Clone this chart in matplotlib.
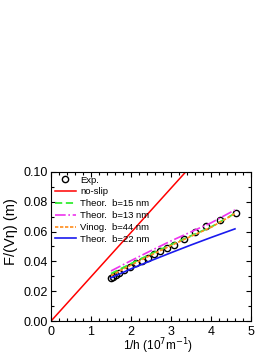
import matplotlib
matplotlib.use("Agg")
import matplotlib.pyplot as plt
from matplotlib.ticker import MultipleLocator, FormatStrFormatter
import numpy as np

plt.rcParams['font.family'] = ['Liberation Sans', 'DejaVu Sans']

# experimental points
exp_x = [1.49, 1.55, 1.62, 1.71, 1.83, 1.97, 2.12, 2.27, 2.42, 2.58, 2.73,
         2.89, 3.08, 3.33, 3.60, 3.88, 4.23, 4.62]
exp_y = [0.0287, 0.0298, 0.0310, 0.0322, 0.0342, 0.0365, 0.0387, 0.0405,
         0.0425, 0.0448, 0.0470, 0.0490, 0.0512, 0.0550, 0.0600, 0.0636,
         0.0677, 0.0722]

# no-slip line
noslip_x = [0.0, 3.37]
noslip_y = [0.0, 0.100]

# theory curves
th_x = [1.5, 2.0, 2.5, 3.0, 3.5, 4.0, 4.6]
th15_y = [0.0318, 0.0385, 0.0450, 0.0512, 0.0572, 0.0630, 0.0722]
th13_y = [0.0336, 0.0405, 0.0472, 0.0537, 0.0598, 0.0658, 0.0745]
vin44_y = [0.0305, 0.0375, 0.0442, 0.0506, 0.0568, 0.0628, 0.0720]
th22_y = [0.0290, 0.0350, 0.0405, 0.0458, 0.0510, 0.0560, 0.0618]

fig = plt.figure(figsize=(2.77, 3.58), dpi=100)
ax = fig.add_axes([0.184, 0.103, 0.722, 0.417])

ax.plot(exp_x, exp_y, 'o', mfc='none', mec='black', ms=4.5, mew=1.0, label='Exp.')
ax.plot(noslip_x, noslip_y, '-', color='red', lw=1.1, label='no-slip')
ax.plot(th_x, th15_y, '--', color='#33ee33', lw=1.3, dashes=(4, 2), label='Theor.  b=15 nm')
ax.plot(th_x, th13_y, '-.', color='#ee33ee', lw=1.2, label='Theor.  b=13 nm')
ax.plot(th_x, vin44_y, ':', color='#ff8c1a', lw=1.2, dashes=(2, 1), label='Vinog.  b=44 nm')
ax.plot(th_x, th22_y, '-', color='#1a1aee', lw=1.2, label='Theor.  b=22 nm')

ax.set_xlim(0, 5)
ax.set_ylim(0, 0.10)
ax.xaxis.set_major_locator(MultipleLocator(1))
ax.xaxis.set_minor_locator(MultipleLocator(0.2))
ax.yaxis.set_major_locator(MultipleLocator(0.02))
ax.yaxis.set_minor_locator(MultipleLocator(0.01))
ax.yaxis.set_major_formatter(FormatStrFormatter('%.2f'))
ax.tick_params(which='both', direction='in', top=True, right=True, labelsize=9, width=0.8)
ax.tick_params(which='major', length=3.5, pad=2.5)
ax.tick_params(axis='x', which='major', pad=3.5)
ax.tick_params(which='minor', length=2)
for s in ax.spines.values():
    s.set_linewidth(0.8)

ax.set_xlabel('1/h (10$^{7}$m$^{-1}$)', fontsize=8.5)
ax.xaxis.set_label_coords(0.535, -0.105)
ax.set_ylabel('F/(V\u03b7) (m)', fontsize=10.5)
ax.yaxis.set_label_coords(-0.165, 0.6)

ax.legend(loc='upper left', frameon=False, fontsize=6.8, handlelength=2.2,
          handletextpad=0.5, labelspacing=0.3, borderaxespad=0.2,
          borderpad=0.2)

fig.savefig('out.png', dpi=100)
